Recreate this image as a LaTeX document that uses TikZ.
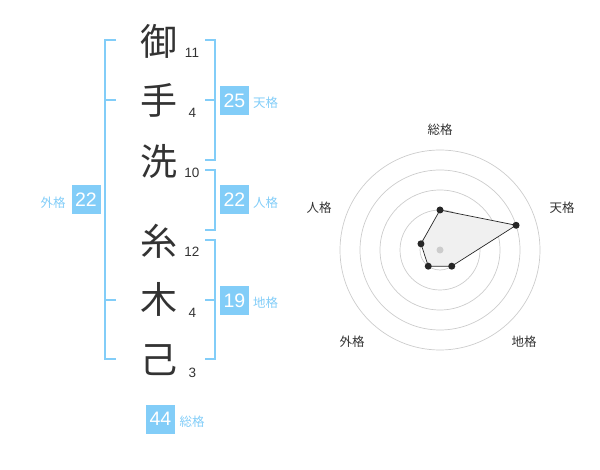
\documentclass[tikz,border=0pt]{standalone}
\usepackage{fontspec}
\setmainfont{Liberation Sans}
\newfontfamily\jp{Noto Sans CJK JP}
\definecolor{kblue}{HTML}{82CDF8}
\definecolor{ktext}{HTML}{333333}
\definecolor{ring}{HTML}{CCCCCC}
\begin{document}
\begin{tikzpicture}[x=1pt,y=-1pt,
 kanji/.style={font=\jp\fontsize{37}{37}\selectfont, text=ktext, inner sep=0},
 strokes/.style={font=\fontsize{13.5}{14}\selectfont, text=ktext, inner sep=0},
 numbox/.style={fill=kblue, text=white, minimum size=29pt, inner sep=0, font=\fontsize{19.5}{20}\selectfont},
 lbl/.style={font=\jp\fontsize{12.5}{12.5}\selectfont, text=kblue, inner sep=0},
 brk/.style={draw=kblue, line width=2pt},
 axlbl/.style={font=\jp\fontsize{12.5}{12.5}\selectfont, text=ktext, inner sep=0},
 dot/.style={circle, fill=black!85, inner sep=0, minimum size=7pt},
]
\useasboundingbox (0,0) rectangle (600,470);
% kanji
\node[kanji] (k1) at (159,41) {御};
\node[kanji] (k2) at (159,100) {手};
\node[kanji] (k3) at (159,161) {洗};
\node[kanji] (k4) at (159,241) {糸};
\node[kanji] (k5) at (159,299) {木};
\node[kanji] (k6) at (159,360) {己};
% stroke counts
\node[strokes] (s1) at (192,53) {11};
\node[strokes] (s2) at (192.5,113) {4};
\node[strokes] (s3) at (192,173) {10};
\node[strokes] (s4) at (192,252) {12};
\node[strokes] (s5) at (192.5,313) {4};
\node[strokes] (s6) at (192.5,373) {3};
% brackets
\draw[brk] (116,40) -- (105,40) -- (105,359) -- (116,359);
\draw[brk] (105,100) -- (116,100);
\draw[brk] (105,300) -- (116,300);
\draw[brk] (205,40) -- (215,40) -- (215,160) -- (205,160);
\draw[brk] (205,100) -- (215,100);
\draw[brk] (205,170) -- (215,170) -- (215,230) -- (205,230);
\draw[brk] (205,240) -- (215,240) -- (215,359) -- (205,359);
\draw[brk] (205,300) -- (215,300);
% boxes
\node[numbox] (b1) at (234.5,100.5) {25};
\node[lbl] (l1) at (265.5,103) {天格};
\node[numbox] (b2) at (234.5,200) {22};
\node[lbl] (l2) at (265.5,203) {人格};
\node[numbox] (b3) at (234.5,300.5) {19};
\node[lbl] (l3) at (265.5,303) {地格};
\node[numbox] (b4) at (86,200) {22};
\node[lbl] (l4) at (53,203) {外格};
\node[numbox] (b5) at (160.5,419) {44};
\node[lbl] (l5) at (192,422) {総格};
% radar
\begin{scope}[shift={(440,250)}]
 \foreach \r in {20,40,60,80,100} \draw[ring, line width=0.7pt] (0,0) circle[radius=\r];
 \coordinate (p1) at (-90:40);
 \coordinate (p2) at (-18:80);
 \coordinate (p3) at (54:20);
 \coordinate (p4) at (126:20);
 \coordinate (p5) at (198:20);
 \fill[black!6] (p1) -- (p2) -- (p3) -- (p4) -- (p5) -- cycle;
 \draw[black!85, line width=0.7pt] (p1) -- (p2) -- (p3) -- (p4) -- (p5) -- cycle;
 \node[circle, fill=ring, inner sep=0, minimum size=7pt] (c) at (0,0) {};
 \foreach \p in {p1,p2,p3,p4,p5} \node[dot] at (\p) {};
 \node[axlbl] (a1) at (0,-120) {総格};
 \node[axlbl] (a2) at (122,-42) {天格};
 \node[axlbl] (a3) at (-121,-42) {人格};
 \node[axlbl] (a4) at (84,92) {地格};
 \node[axlbl] (a5) at (-88,92) {外格};
\end{scope}
\end{tikzpicture}
\end{document}
